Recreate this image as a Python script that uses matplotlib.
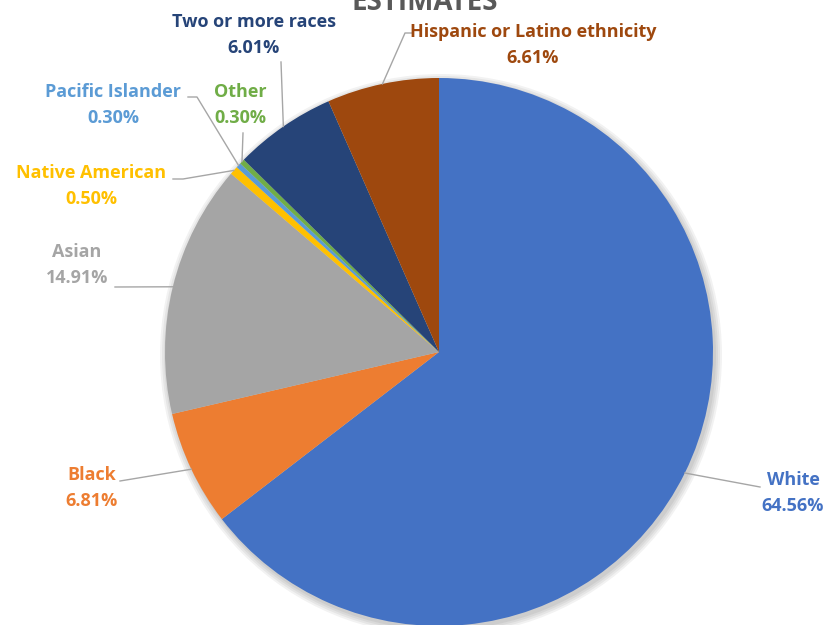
import matplotlib
matplotlib.use("Agg")
import matplotlib.pyplot as plt
import numpy as np

# data
categories = ["White", "Black", "Asian", "Native American", "Pacific Islander",
              "Other", "Two or more races", "Hispanic or Latino ethnicity"]
shares = [64.56, 6.81, 14.91, 0.50, 0.30, 0.30, 6.01, 6.61]
colors = ["#4472C4", "#ED7D31", "#A5A5A5", "#FFC000", "#5B9BD5",
          "#70AD47", "#264478", "#9E480E"]

# layout (pixel coordinates, origin top-left)
W, H = 831, 625
CENTER = (439, 352)
RADIUS = 274
# label text centre (x, y of first line) and leader-line bend points
label_pos = [(793, 480), (92, 475), (77, 252), (91, 173), (113, 92),
             (240, 92), (254, 22), (533, 32)]
leader_pts = [
    [(760, 487)],
    [(120, 481)],
    [(115, 287)],
    [(183, 179), (173, 179)],
    [(197, 97), (188, 97)],
    [(243, 133)],
    [(281, 62)],
    [(405, 33), (412, 33)],
]

plt.rcParams["font.family"] = ["Open Sans", "DejaVu Sans"]

fig = plt.figure(figsize=(W / 100, H / 100), dpi=100)
ax = fig.add_axes([0, 0, 1, 1])

cx, cy = CENTER[0], H - CENTER[1]

# soft shadow behind the pie
for k in range(4):
    ax.add_patch(plt.Circle((cx + 2, cy - 3), RADIUS + 1 + 2 * k,
                            color="black", alpha=0.05, lw=0, zorder=0))

wedges, _ = ax.pie(shares, colors=colors, startangle=90, counterclock=False,
                   center=(cx, cy), radius=RADIUS,
                   wedgeprops=dict(linewidth=0))
for w in wedges:
    w.set_zorder(2)

ax.set_xlim(0, W)
ax.set_ylim(0, H)
ax.set_aspect("equal")
ax.axis("off")

total = sum(shares)
start = 0.0
for name, val, col, (lx, ly), pts in zip(categories, shares, colors,
                                          label_pos, leader_pts):
    mid = (start + val / 2) / total
    start += val
    ang = np.deg2rad(90 - mid * 360)
    ex = cx + RADIUS * np.cos(ang)
    ey = cy + RADIUS * np.sin(ang)
    xs = [ex] + [p[0] for p in pts]
    ys = [ey] + [H - p[1] for p in pts]
    ax.plot(xs, ys, color="#A6A6A6", lw=1.0, zorder=3)
    ax.text(lx, H - ly, name, color=col, fontsize=13, fontweight="bold",
            ha="center", va="center", zorder=4)
    ax.text(lx, H - ly - 26, f"{val:.2f}%", color=col, fontsize=13,
            fontweight="bold", ha="center", va="center", zorder=4)

# title sits mostly above the top edge, as in the reference
ax.text(425, H - 10, "ESTIMATES", color="#595959", fontsize=20,
        fontweight="bold", ha="center", va="baseline")

fig.savefig("out.png", dpi=100)
